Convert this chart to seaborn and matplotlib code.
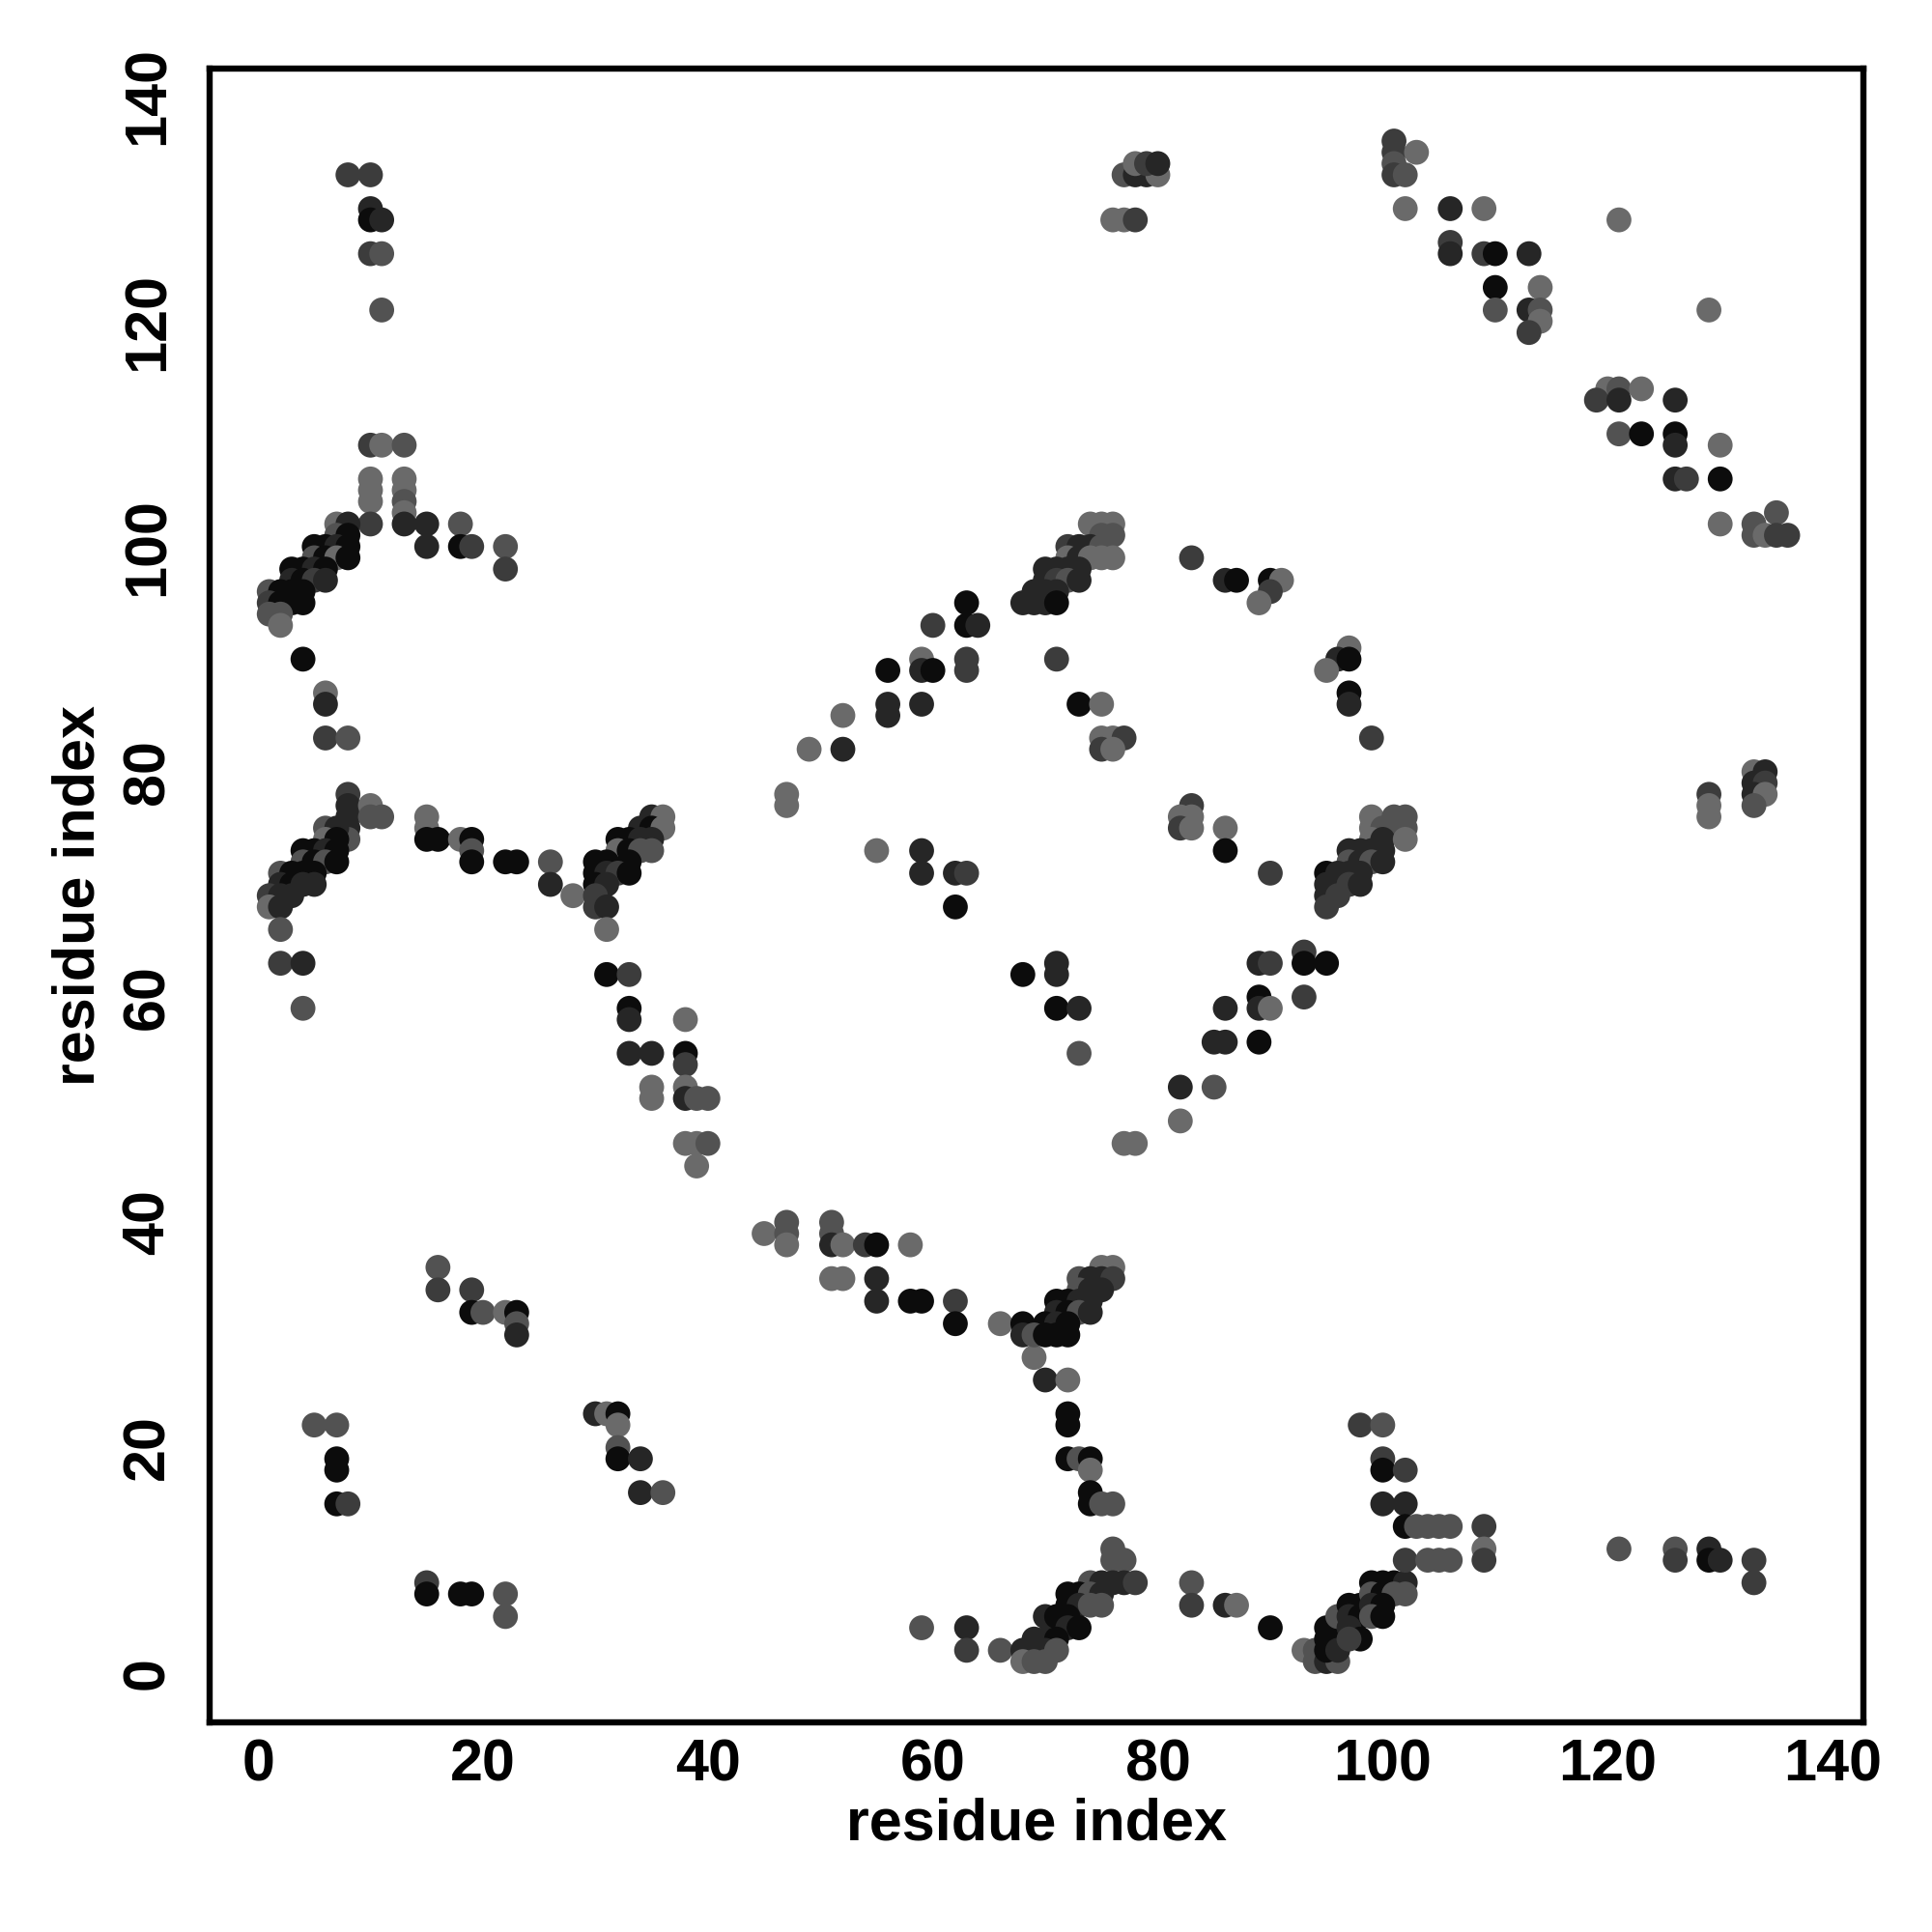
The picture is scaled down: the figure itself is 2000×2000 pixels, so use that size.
import matplotlib
matplotlib.use("Agg")
import matplotlib.pyplot as plt
import seaborn as sns
import pandas as pd

# contact points: (residue i, residue j, grey level code 0=black .. 4=light grey)
points = [
    (8,133,2),(10,133,2),(10,130,1),(10,129,0),(11,129,1),(10,126,2),(11,126,3),(11,121,3),
    (10,109,2),(11,109,4),(13,109,3),(10,106,4),(10,105,4),(10,104,4),(10,102,2),(13,106,4),(13,105,4),(13,104,3),(13,103,4),(13,102,1),
    (15,102,1),(15,100,1),(18,102,3),(18,100,0),(19,100,2),(22,100,3),(22,98,2),
    (7,102,4),(8,102,1),(7,101,3),(8,101,0),(5,100,0),(6,100,0),(7,100,1),(8,100,0),(5,99,3),(6,99,0),(7,99,4),(8,99,0),
    (3,98,0),(4,98,0),(5,98,1),(6,98,0),(3,97,1),(4,97,0),(5,97,2),(6,97,1),
    (1,96,3),(2,96,0),(3,96,0),(4,96,0),(1,95,2),(2,95,0),(3,95,0),(4,95,0),(1,94,3),(2,94,3),(2,93,4),
    (4,90,0),(6,87,4),(6,86,1),(6,83,2),(8,83,3),
    (8,78,2),(8,77,1),(8,76,1),(8,75,1),(8,74,3),(10,77,4),(10,76,3),(11,76,3),
    (6,75,3),(7,75,1),(6,74,4),(7,74,0),(4,73,0),(5,73,0),(6,73,1),(7,73,0),(4,72,3),(5,72,0),(6,72,3),(7,72,0),
    (2,71,3),(3,71,0),(4,71,0),(5,71,0),(2,70,1),(3,70,0),(4,70,1),(5,70,1),(1,69,2),(2,69,1),(3,69,1),(1,68,4),(2,68,1),
    (2,66,3),(2,63,2),(4,63,1),(4,59,3),
    (15,76,4),(15,75,4),(15,74,0),(16,74,0),(18,74,4),(19,74,0),(19,73,3),(19,72,0),(22,72,0),(23,72,0),(26,72,3),(26,70,1),(28,69,4),
    (35,76,1),(36,76,4),(34,75,1),(35,75,0),(36,75,4),(32,74,0),(33,74,0),(34,74,1),(35,74,1),(32,73,4),(33,73,0),(34,73,3),(35,73,3),
    (30,72,0),(31,72,0),(33,72,0),(30,71,0),(31,71,1),(32,71,2),(33,71,0),(30,70,0),(31,70,1),(30,69,2),(30,68,2),(31,68,1),(31,66,4),
    (31,62,0),(33,62,2),(33,59,0),(33,58,1),(33,55,1),(35,55,1),
    (38,58,4),(38,55,0),(38,54,2),(35,52,4),(35,51,4),(38,52,4),(38,51,1),(39,51,3),(40,51,3),(38,47,4),(39,47,4),(40,47,3),(39,45,4),
    (5,22,3),(7,22,3),(7,19,0),(7,18,0),(7,15,0),(8,15,2),
    (16,36,3),(16,34,2),(19,34,2),(19,32,0),(20,32,3),(22,32,4),(23,32,0),(23,31,3),(23,30,1),
    (30,23,1),(31,23,4),(32,23,0),(32,22,4),(32,20,3),(32,19,0),(34,19,1),(34,16,1),(36,16,3),
    (15,8,2),(15,7,0),(18,7,0),(19,7,0),(22,7,3),(22,5,3),
    (45,39,4),(47,40,3),(47,39,3),(47,38,4),(51,40,3),(51,39,3),(51,38,1),(52,38,4),(54,38,2),(55,38,0),(58,38,4),
    (51,35,4),(52,35,4),(55,35,1),(55,33,1),(58,33,0),(59,33,0),(62,33,2),(62,31,0),(66,31,4),(68,31,0),(68,30,1),(69,28,4),(70,26,1),(72,26,4),
    (72,23,0),(72,22,0),(72,19,0),(73,19,3),(74,19,0),(74,18,4),(74,16,0),(74,15,0),(75,15,3),(76,15,3),
    (76,11,3),(76,10,3),(77,10,3),
    (75,36,4),(76,36,4),(73,35,3),(74,35,1),(75,35,1),(76,35,2),(73,34,3),(74,34,1),(75,34,1),
    (71,33,0),(72,33,0),(73,33,1),(74,33,1),(71,32,1),(72,32,0),(73,32,3),(74,32,1),(70,31,0),(71,31,1),(72,31,0),(69,30,3),(70,30,0),(71,30,0),(72,30,0),
    (59,4,3),(63,4,1),(63,2,2),(66,2,3),(68,2,1),(68,1,4),
    (74,8,3),(75,8,1),(76,8,1),(77,8,1),(78,8,2),(72,7,0),(73,7,0),(74,7,3),(75,7,1),(72,6,0),(73,6,1),(74,6,3),(75,6,3),
    (70,5,1),(71,5,0),(72,5,0),(72,4,1),(73,4,0),(69,3,1),(70,3,1),(71,3,0),(70,2,1),(71,2,3),(69,1,3),(70,1,3),
    (83,8,3),(83,6,2),(86,6,1),(87,6,4),(90,4,0),
    (93,2,4),(94,2,3),(94,1,3),(95,1,1),(96,1,3),(95,4,0),(96,4,0),(95,3,0),(96,3,0),(95,2,0),(96,2,1),(96,5,3),
    (97,6,0),(98,6,0),(97,5,1),(98,5,0),(97,4,1),(98,3,0),(97,3,2),
    (99,8,0),(100,8,0),(101,8,0),(102,8,1),(99,7,3),(100,7,0),(101,7,3),(102,7,3),(99,6,1),(100,6,0),(99,5,3),(100,5,0),
    (98,22,2),(100,22,3),(100,19,2),(100,18,0),(102,18,2),(100,15,1),(102,15,1),(102,13,0),(103,13,3),(104,13,3),(105,13,3),(106,13,3),
    (102,10,2),(104,10,3),(105,10,3),(106,10,3),(109,13,2),(109,11,4),(109,10,2),
    (121,11,3),(126,11,3),(126,10,2),(129,11,1),(129,10,0),(130,10,1),(133,10,2),(133,8,2),
    (71,63,1),(71,62,1),(71,59,0),(73,59,1),(73,55,3),(68,62,0),
    (89,63,1),(90,63,2),(93,64,2),(93,63,0),(95,63,0),(89,60,0),(89,59,1),(90,59,4),(93,60,2),(86,59,1),
    (85,56,1),(86,56,1),(89,56,0),(82,52,1),(85,52,3),(82,49,4),(77,47,4),(78,47,4),
    (60,93,2),(63,93,0),(64,93,1),(63,95,0),(59,90,4),(59,89,1),(60,89,0),(56,89,0),(63,90,2),(63,89,2),
    (56,86,1),(56,85,1),(59,86,1),(52,85,4),(49,82,4),(52,82,1),(47,78,4),(47,77,4),
    (55,73,4),(59,73,1),(59,71,1),(62,71,1),(63,71,2),(62,68,0),
    (74,102,4),(75,102,4),(76,102,4),(75,101,3),(76,101,3),(72,100,2),(73,100,1),(74,100,1),(75,100,3),
    (72,99,4),(73,99,1),(74,99,4),(75,99,4),(76,99,4),(70,98,1),(71,98,1),(72,98,1),(73,98,1),
    (70,97,1),(71,97,2),(72,97,3),(73,97,1),(69,96,1),(70,96,1),(71,96,1),(68,95,1),(69,95,1),(70,95,1),(71,95,0),
    (71,90,2),(73,86,0),(75,86,4),(75,83,4),(76,83,4),(77,83,2),(75,82,2),(76,82,4),
    (83,77,2),(82,76,4),(83,76,4),(82,75,2),(83,75,4),(86,75,4),(86,73,0),(90,71,2),
    (83,99,2),(86,97,1),(87,97,0),(90,97,0),(91,97,4),(90,96,2),(89,95,4),
    (97,91,4),(96,90,1),(97,90,0),(95,89,4),(97,87,0),(97,86,1),(99,83,2),
    (99,76,4),(101,76,3),(102,76,3),(99,75,4),(100,75,3),(101,75,3),(102,75,3),(99,74,4),(100,74,1),(102,74,4),
    (97,73,1),(98,73,1),(99,73,1),(100,73,1),(97,72,3),(98,72,1),(99,72,3),(100,72,1),
    (95,71,0),(96,71,1),(97,71,1),(98,71,1),(95,70,1),(96,70,1),(97,70,2),(98,70,1),(95,69,1),(96,69,2),(95,68,2),
    (129,78,2),(129,77,4),(129,76,4),(133,80,4),(134,80,1),(133,79,1),(134,79,2),(133,78,1),(134,78,4),(133,77,3),
    (76,129,4),(77,129,4),(78,129,2),(77,133,3),(78,133,1),(79,133,1),(80,133,4),(78,134,4),(79,134,2),(80,134,1),
    (101,136,2),(101,135,2),(101,134,3),(101,133,2),(102,133,3),(103,135,4),(102,130,4),(106,130,1),(106,127,2),(106,126,1),
    (109,130,4),(121,129,4),(109,126,2),(110,126,0),(113,126,1),(110,123,0),(114,123,4),(110,121,3),(113,121,1),(114,121,3),(114,120,4),(113,119,2),(129,121,4),
    (120,114,4),(121,114,3),(123,114,4),(119,113,2),(121,113,1),(126,113,1),(121,110,3),(123,110,0),(126,110,0),(126,109,1),(130,109,4),
    (126,106,1),(127,106,2),(130,106,0),(130,102,4),(133,102,3),(135,103,3),(133,101,3),(134,101,4),(135,101,2),(136,101,2),
]
residue_i = [p[0] for p in points]
residue_j = [p[1] for p in points]
shade = [p[2] for p in points]

grey_levels = {0: "#0c0c0c", 1: "#262626", 2: "#3c3c3c", 3: "#525252", 4: "#6a6a6a"}
x_ticks = [0, 20, 40, 60, 80, 100, 120, 140]
y_ticks = [0, 20, 40, 60, 80, 100, 120, 140]

df = pd.DataFrame({"i": residue_i, "j": residue_j, "shade": shade})

sns.set_theme(style="white")
plt.rcParams["font.family"] = ["Liberation Sans", "DejaVu Sans"]
plt.rcParams["font.weight"] = "bold"
plt.rcParams["text.color"] = "black"
plt.rcParams["axes.labelcolor"] = "black"

fig = plt.figure(figsize=(10, 10), dpi=200)
ax = fig.add_axes([0.1085, 0.1085, 0.8558, 0.8558])

sns.scatterplot(data=df, x="i", y="j", hue="shade", palette=grey_levels,
                s=86, linewidth=0, legend=False, ax=ax, zorder=3)

ax.set_xlim(-4.3, 142.7)
ax.set_ylim(-4.4, 142.4)
ax.set_xticks(x_ticks)
ax.set_yticks(y_ticks)
ax.set_xticklabels([str(t) for t in x_ticks], fontsize=22, fontweight="bold", color="black")
ax.set_yticklabels([str(t) for t in y_ticks], fontsize=22, fontweight="bold", color="black",
                   rotation=90, va="center")
ax.tick_params(axis="x", direction="out", length=4.5, width=2, pad=1.5, colors="black")
ax.tick_params(axis="y", direction="out", length=4.5, width=2, pad=8, colors="black")
for sp in ax.spines.values():
    sp.set_visible(True)
    sp.set_color("black")
    sp.set_linewidth(2.3)

ax.set_xlabel("residue index", fontsize=22, fontweight="bold", color="black")
ax.set_ylabel("residue index", fontsize=22, fontweight="bold", color="black")
ax.xaxis.set_label_coords(0.5, -0.062)
ax.yaxis.set_label_coords(-0.079, 0.5)
ax.xaxis.label.set_va("center")
ax.yaxis.label.set_va("center")
ax.grid(False)

fig.savefig("out.png", dpi=200, facecolor="white")
